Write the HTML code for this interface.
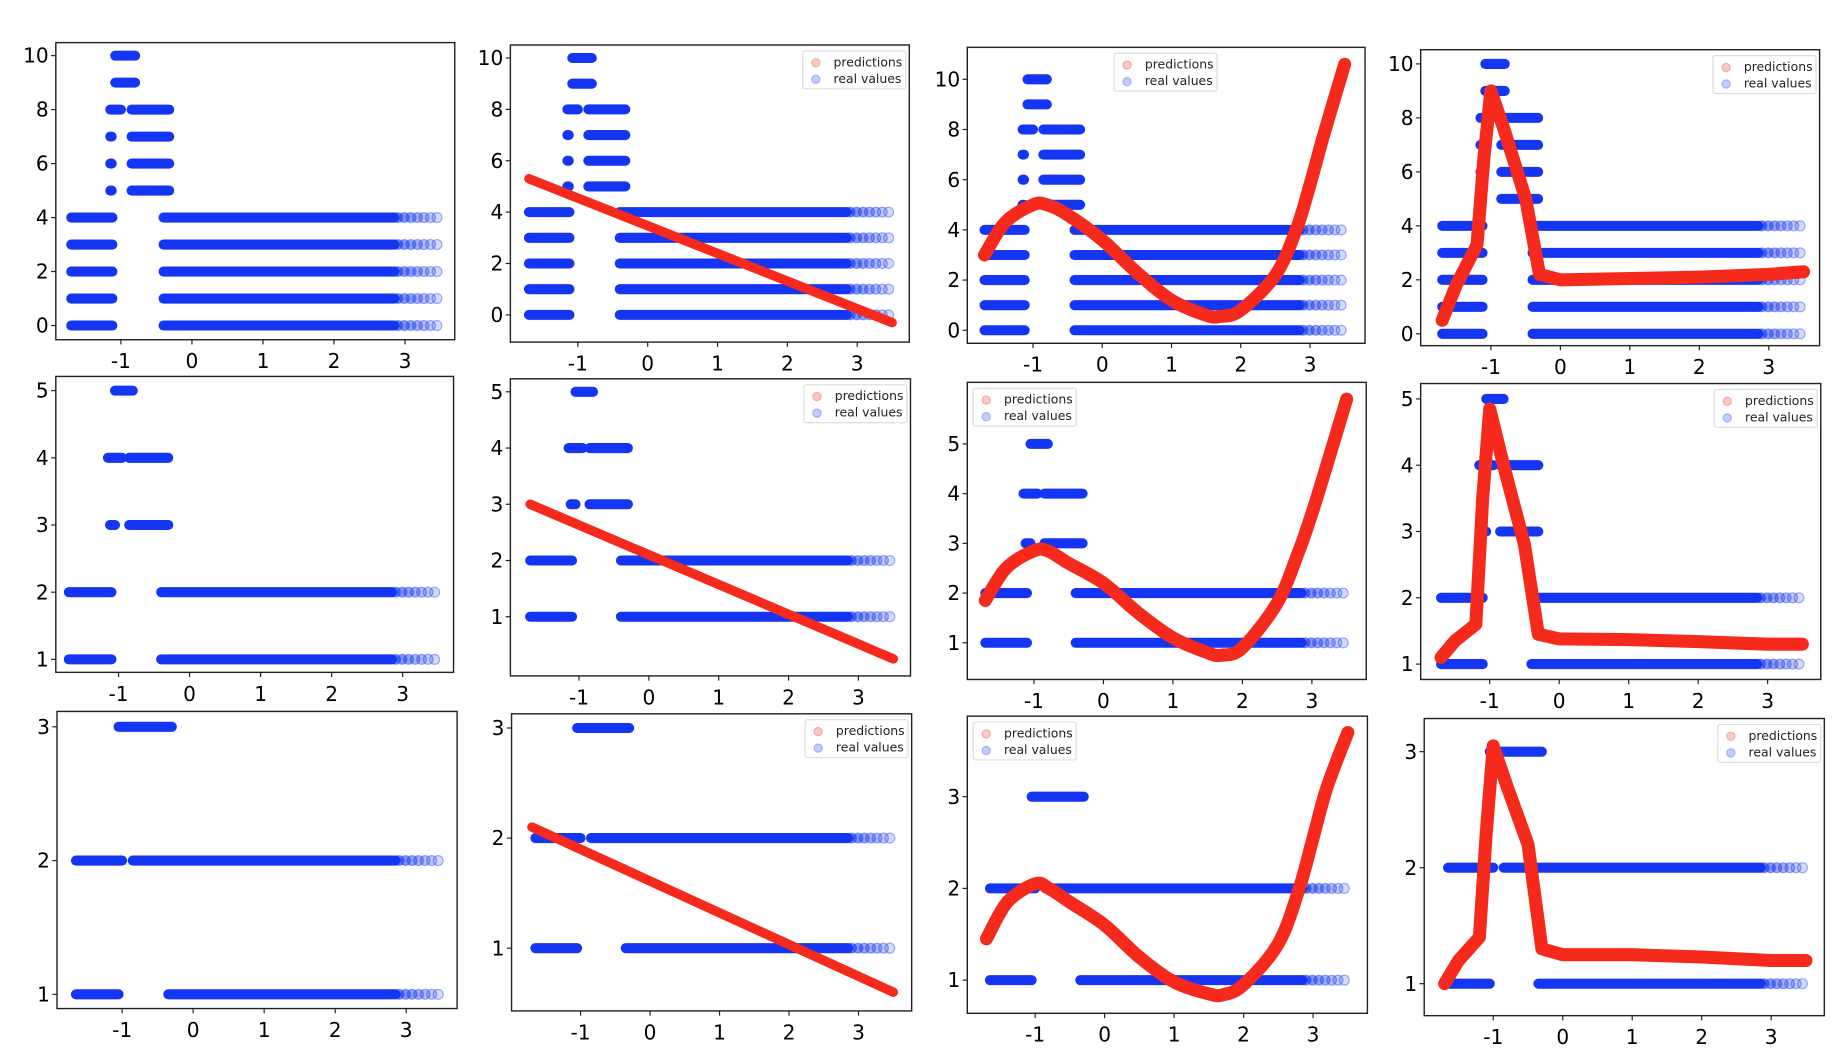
<!DOCTYPE html>
<html><head><meta charset="utf-8"><style>
html,body{margin:0;padding:0;background:#fff;}
svg{display:block;font-family:"DejaVu Sans","Liberation Sans",sans-serif;}
</style></head><body>
<svg id="fig" width="1847" height="1063" viewBox="0 0 1560 898" xmlns="http://www.w3.org/2000/svg"></svg>
<script>
// ---- data ----
const rowYTicks = [[0,2,4,6,8,10],[1,2,3,4,5],[1,2,3]];
const xTicks = [-1,0,1,2,3];
// real-value segments per row: [y, xStart, xEnd]
const realRow1 = [[10,-1.08,-0.8],[9,-1.08,-0.8],[8,-1.15,-1.0],[8,-0.85,-0.32],[7,-1.15,-1.13],[7,-0.85,-0.32],[6,-1.15,-1.13],[6,-0.85,-0.32],[5,-1.15,-1.13],[5,-0.85,-0.32],
  [4,-1.7,-1.12],[4,-0.4,3.45],[3,-1.7,-1.12],[3,-0.4,3.45],[2,-1.7,-1.12],[2,-0.4,3.45],[1,-1.7,-1.12],[1,-0.4,3.45],[0,-1.7,-1.12],[0,-0.4,3.45]];
const realRow2 = [[5,-1.05,-0.8],[4,-1.15,-0.95],[4,-0.85,-0.3],[3,-1.12,-1.05],[3,-0.85,-0.3],[2,-1.7,-1.1],[2,-0.4,3.45],[1,-1.7,-1.1],[1,-0.4,3.45]];
const realRow3 = [[3,-1.05,-0.3],[2,-1.65,-1.0],[2,-0.85,3.45],[1,-1.65,-1.05],[1,-0.35,3.45]];
const realRows = [realRow1, realRow2, realRow3];
// predictions (x, y)
const predX_lin = [-1.7, 3.5];
const predY_lin = [[5.3,-0.3],[3.0,0.25],[2.1,0.6]];
const predX_cub = [-1.7,-1.4,-1.0,-0.8,-0.5,0,0.5,1.0,1.5,1.7,2.0,2.5,2.8,3.0,3.2,3.5];
const predY_cub = [
  [3.0,4.3,5.0,5.0,4.6,3.6,2.3,1.2,0.6,0.55,0.8,2.2,4.0,5.8,7.8,10.6],
  [1.85,2.5,2.85,2.85,2.6,2.2,1.6,1.1,0.8,0.75,0.9,1.8,2.8,3.6,4.5,5.9],
  [1.45,1.85,2.05,2.0,1.85,1.6,1.25,0.98,0.85,0.84,0.95,1.4,2.0,2.55,3.1,3.7]];
const predX_pk = [-1.7,-1.5,-1.2,-1.1,-1.0,-0.8,-0.5,-0.3,0,1,2,3,3.5];
const predY_pk = [
  [0.5,1.8,3.3,6.5,9.0,7.5,5.0,2.2,2.0,2.05,2.1,2.2,2.3],
  [1.1,1.35,1.6,3.5,4.85,4.0,2.8,1.45,1.38,1.37,1.34,1.3,1.3],
  [1.0,1.2,1.4,2.3,3.05,2.7,2.2,1.3,1.25,1.25,1.23,1.2,1.2]];
// panel geometry (layout, not data)
const panels = [
 [[47,36,384,287],162,60,[0,275],[10,47]],
 [[431,38,768,289],547,59,[0,266],[10,49]],
 [[817,40,1153,290],931,58.5,[0,279],[10,67]],
 [[1200,42,1537,292],1318,58.7,[0,282],[10,54]],
 [[47,318,383,568],160,60,[1,557],[5,330]],
 [[431,320,769,571],548,59,[1,521],[5,331]],
 [[817,323,1154,574],932,58.7,[1,543],[5,375]],
 [[1200,324,1538,574],1317,58.7,[1,561],[5,337]],
 [[48,601,386,852],163,60,[1,840],[3,614]],
 [[432,603,770,854],549,58.7,[1,801],[3,615]],
 [[817,605,1155,856],933,58.7,[1,828],[3,673]],
 [[1203,607,1541,858],1320,58.7,[1,831],[3,635]]];
const legendLeft = [false,false,true,false, false,false,true,false, false,false,true,false];
const NS='http://www.w3.org/2000/svg';
const svg=document.getElementById('fig');
function mk(tag,attrs,parent){const e=document.createElementNS(NS,tag);for(const k in attrs)e.setAttribute(k,attrs[k]);(parent||svg).appendChild(e);return e;}
function smooth(pts){
  let d='M'+pts[0][0].toFixed(1)+' '+pts[0][1].toFixed(1);
  for(let i=0;i<pts.length-1;i++){
    const p0=pts[Math.max(0,i-1)],p1=pts[i],p2=pts[i+1],p3=pts[Math.min(pts.length-1,i+2)];
    const c1=[p1[0]+(p2[0]-p0[0])/6,p1[1]+(p2[1]-p0[1])/6];
    const c2=[p2[0]-(p3[0]-p1[0])/6,p2[1]-(p3[1]-p1[1])/6];
    d+=' C'+c1[0].toFixed(1)+' '+c1[1].toFixed(1)+' '+c2[0].toFixed(1)+' '+c2[1].toFixed(1)+' '+p2[0].toFixed(1)+' '+p2[1].toFixed(1);
  }
  return d;
}
const BLUE='#1436f2', RED='#f52a1c';
panels.forEach((p,i)=>{
  const row=Math.floor(i/4), col=i%4;
  const [l,t,r,b]=p[0];
  const xs=v=>p[1]+v*p[2];
  const ys=v=>p[3][1]+(v-p[3][0])*(p[4][1]-p[3][1])/(p[4][0]-p[3][0]);
  const g=mk('g',{});
  
  
  const rg=mk('g',{},g);
  
  
  realRows[row].forEach(s=>{
    const [y,a,bb]=s;
    const solidEnd=bb>3?2.85:bb;
    const ln=mk('line',{x1:xs(a),x2:xs(solidEnd),y1:ys(y),y2:ys(y),stroke:BLUE,'stroke-width':8.5,'stroke-linecap':'round'},rg);
    
    
    if(bb>3){
      for(let k=0;k<7;k++){
        const xv=2.9+k*(bb-2.9)/6;
        const c=mk('circle',{cx:xs(xv),cy:ys(y),r:4.2,fill:BLUE,'fill-opacity':0.6-k*0.07,stroke:BLUE,'stroke-opacity':0.4},rg);
        
        
      }
    }
  });
  let px=null,py=null;
  if(col===1){px=predX_lin;py=predY_lin[row];}
  if(col===2){px=predX_cub;py=predY_cub[row];}
  if(col===3){px=predX_pk;py=predY_pk[row];}
  if(px){
    const pts=px.map((x,k)=>[xs(x),ys(py[k])]);
    const d=col===2?smooth(pts):pts.map((q,k)=>(k?'L':'M')+q[0].toFixed(1)+' '+q[1].toFixed(1)).join(' ');
    const pth=mk('path',{d:d,fill:'none',stroke:RED,'stroke-width':col===1?8:11,'stroke-linecap':'round','stroke-linejoin':'round'},g);
    
    
  }
  const fr=mk('rect',{x:l,y:t,width:r-l,height:b-t,fill:'none',stroke:'#222','stroke-width':1.2},g);
  
  
  rowYTicks[row].forEach(v=>{
    const yy=ys(v);
    mk('line',{x1:l-4,x2:l,y1:yy,y2:yy,stroke:'#222'},g);
    const tx=mk('text',{x:l-6,y:yy+6,'text-anchor':'end','font-size':17,fill:'#000'},g);
    tx.textContent=v;
    
    
  });
  xTicks.forEach(v=>{
    const xx=xs(v);
    mk('line',{x1:xx,x2:xx,y1:b,y2:b+4,stroke:'#222'},g);
    const tx=mk('text',{x:xx,y:b+24,'text-anchor':'middle','font-size':17,fill:'#000'},g);
    tx.textContent=v;
    
    
  });
  if(col>0){
    const lx=legendLeft[i]?(row===0?941:l+5):r-90, ly=t+5;
    const lg=mk('g',{},g);
    
    
    mk('rect',{x:lx,y:ly,width:87,height:32,fill:'#fff',stroke:'#ddd',rx:2},lg);
    mk('circle',{cx:lx+11,cy:ly+10,r:3.5,fill:RED,'fill-opacity':0.25,stroke:RED,'stroke-opacity':0.3},lg);
    mk('circle',{cx:lx+11,cy:ly+24,r:3.5,fill:BLUE,'fill-opacity':0.25,stroke:BLUE,'stroke-opacity':0.3},lg);
    const t1=mk('text',{x:lx+26,y:ly+13,'font-size':10.5,fill:'#222'},lg);t1.textContent='predictions';
    
    
    const t2=mk('text',{x:lx+26,y:ly+27,'font-size':10.5,fill:'#222'},lg);t2.textContent='real values';
    
    
  }
});
</script>
</body></html>
